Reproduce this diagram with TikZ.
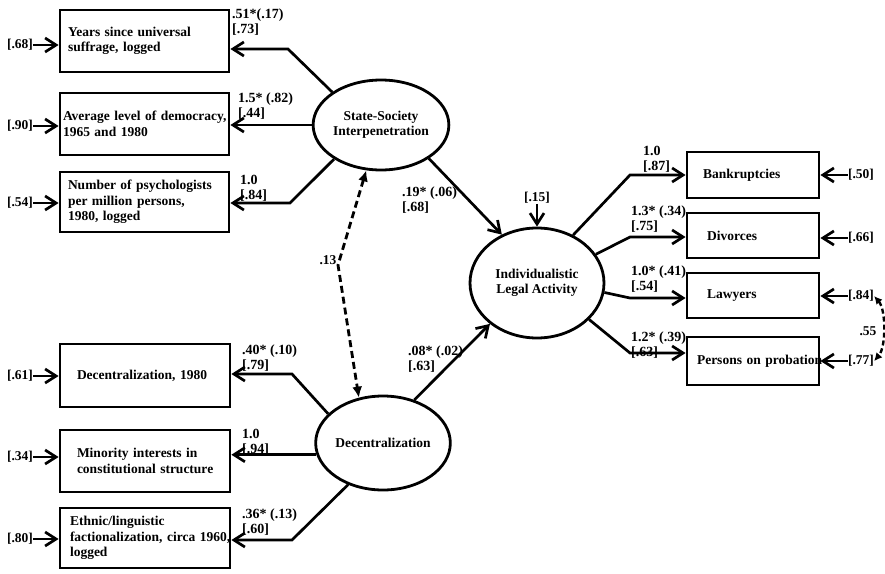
\documentclass[tikz,border=0pt]{standalone}
\usepackage{fontspec}
\setmainfont{Liberation Serif}
\usetikzlibrary{arrows.meta,shapes.geometric}
\begin{document}
\begin{tikzpicture}[x=1pt,y=-1pt,
  font=\bfseries\fontsize{13.5}{15.5}\selectfont,
  box/.style={draw, line width=2.8pt, align=left, inner ysep=2pt},
  ell/.style={ellipse, draw, line width=2.8pt, inner sep=0pt, align=center},
  conn/.style={line width=2.7pt, -{Straight Barb[length=11pt,width=14pt,line width=2.7pt]}},
  dashboth/.style={line width=2.8pt, dash pattern=on 7pt off 4pt,
     {Latex[length=11pt,width=10pt]}-{Latex[length=11pt,width=10pt]}},
  dashsmall/.style={line width=2.4pt, dash pattern=on 5pt off 3pt,
     {Latex[length=8pt,width=8pt]}-{Latex[length=8pt,width=8pt]}},
  lab/.style={anchor=north west, inner sep=0pt, align=left,
     font=\bfseries\fontsize{14}{14.5}\selectfont},
  err/.style={inner sep=0pt}]
\useasboundingbox (0,0) rectangle (885,573);
\fill[white] (0,0) rectangle (885,573);

% left indicator boxes
\node[box, minimum height=62, inner xsep=8pt, text width=153pt] (b1) at (144.5,41)
  {Years since universal\\suffrage, logged};
\node[box, minimum height=62, inner xsep=3pt, text width=163pt] (b2) at (144.5,124)
  {\mbox{Average level of democracy,}\\1965 and 1980};
\node[box, minimum height=60, inner xsep=8pt, text width=153pt] (b3) at (144.5,202)
  {Number of psychologists\\per million persons,\\1980, logged};
\node[box, minimum height=63, inner xsep=17pt, text width=136pt] (b4) at (145,375.5)
  {Decentralization, 1980};
\node[box, minimum height=62, inner xsep=17pt, text width=136pt] (b5) at (145,461)
  {Minority interests in\\\mbox{constitutional structure}};
\node[box, minimum height=60, inner xsep=10pt, text width=150pt] (b6) at (145,538)
  {Ethnic/linguistic\\\mbox{factionalization, circa 1960,}\\logged};

% right indicator boxes
\node[box, minimum height=46, inner xsep=16pt, text width=100pt] (bk) at (753,175) {Bankruptcies};
\node[box, minimum height=45, inner xsep=20pt, text width=92pt] (dv) at (753,235.5) {Divorces};
\node[box, minimum height=45, inner xsep=20pt, text width=92pt] (lw) at (753,295.5) {Lawyers};
\node[box, minimum height=48, inner xsep=10pt, text width=112pt] (pr) at (753,361) {\mbox{Persons on probation}};

% latent variables
\node[ell, minimum width=132, minimum height=90] (ss) at (381,125) {State-Society\\Interpenetration};
\node[ell, minimum width=132, minimum height=94] (dc) at (383,443) {Decentralization};
\node[ell, minimum width=134, minimum height=110] (ind) at (537,283) {Individualistic\\Legal Activity};

% bend coordinates
\coordinate (k1) at (288,49);
\coordinate (k3) at (290,203);
\coordinate (k4) at (292,374);
\coordinate (k6) at (292,540);
\coordinate (r1) at (630,175);
\coordinate (r2) at (630,237);
\coordinate (r3) at (630,298);
\coordinate (r4) at (630,353);
\coordinate (kk) at (338,265);

% loadings, left
\draw[conn] (ss.146) -- (k1) -- (b1.east |- k1);
\draw[conn] (ss.180) -- (ss.180 -| b2.east);
\draw[conn] (ss.216) -- (k3) -- (b3.east |- k3);
\draw[conn] (dc.152) -- (k4) -- (b4.east |- k4);
\draw[conn] (dc.190) -- (dc.190 -| b5.east);
\draw[conn] (dc.230) -- (k6) -- (b6.east |- k6);

% structural paths
\draw[conn] (ss.-35) -- (ind.126);
\draw[conn] (dc.54) -- (ind.221);

% loadings, right
\draw[conn] (ind.53) -- (r1) -- (r1 -| bk.west);
\draw[conn] (ind.26) -- (r2) -- (r2 -| dv.west);
\draw[conn] (ind.-8) -- (r3) -- (r3 -| lw.west);
\draw[conn] (ind.-35) -- (r4) -- (r4 -| pr.west);

% correlation between latent variables
\draw[dashboth] (ss.252) -- (kk) -- (dc.118);
\node[err] (c13) at (328,260) {.13};

% error terms, left
\node[err] (e1) at (20,45) {[.68]};
\node[err] (e2) at (20,126) {[.90]};
\node[err] (e3) at (20,203) {[.54]};
\node[err] (e4) at (20,376) {[.61]};
\node[err] (e5) at (20,457) {[.34]};
\node[err] (e6) at (20,539) {[.80]};
\foreach \e/\b in {e1/b1,e2/b2,e3/b3,e4/b4,e5/b5,e6/b6}
  \draw[conn] (\e.east) -- (\e.east -| \b.west);

% error terms, right
\node[err] (f1) at (861,175) {[.50]};
\node[err] (f2) at (861,238) {[.66]};
\node[err] (f3) at (861,296) {[.84]};
\node[err] (f4) at (861,361) {[.77]};
\foreach \e/\b in {f1/bk,f2/dv,f3/lw,f4/pr}
  \draw[conn] (\e.west) -- (\e.west -| \b.east);

% disturbance
\node[err] (d15) at (537,198) {[.15]};
\draw[conn] (d15.south) -- (ind.north);

% correlated errors
\draw[dashsmall] (f3.east) .. controls +(12,14) and +(12,-14) .. (f4.east);
\node[err] (c55) at (868,331) {.55};

% coefficient labels
\node[lab] (l1) at (232,9) {.51*(.17)\\{}[.73]};
\node[lab] (l2) at (238,93) {1.5* (.82)\\{}[.44]};
\node[lab] (l3) at (240,175) {1.0\\{}[.84]};
\node[lab] (l4) at (242,345) {.40* (.10)\\{}[.79]};
\node[lab] (l5) at (242,429) {1.0\\{}[.94]};
\node[lab] (l6) at (242,509) {.36* (.13)\\{}[.60]};
\node[lab] (l7) at (402,187) {.19* (.06)\\{}[.68]};
\node[lab] (l8) at (408,346) {.08* (.02)\\{}[.63]};
\node[lab] (m1) at (643,146) {1.0\\{}[.87]};
\node[lab] (m2) at (631,206) {1.3* (.34)\\{}[.75]};
\node[lab] (m3) at (631,266) {1.0* (.41)\\{}[.54]};
\node[lab] (m4) at (631,332) {1.2* (.39)\\{}[.63]};
\end{tikzpicture}
\end{document}
